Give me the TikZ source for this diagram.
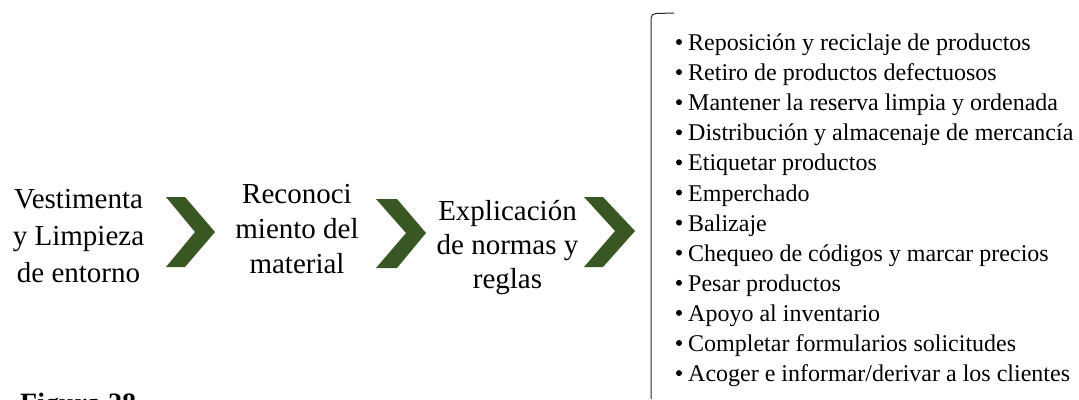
\documentclass[tikz,border=0pt]{standalone}
\usepackage{fontspec}
\setmainfont{Liberation Serif}
\definecolor{chevgreen}{RGB}{56,87,35}
\definecolor{bracketgray}{RGB}{40,40,40}
\tikzset{
  chev/.style={fill=chevgreen, draw=none},
  steptext/.style={anchor=base, align=center, inner sep=0pt, font=\fontsize{29}{36}\selectfont},
  listitem/.style={anchor=base west, inner sep=0pt, font=\fontsize{24}{28}\selectfont},
  dot/.style={fill=black, draw=none},
  brk/.style={draw=bracketgray, line width=1pt}
}
\begin{document}
\begin{tikzpicture}[x=1pt,y=-1pt]
\useasboundingbox (0,0) rectangle (1079,399);
\clip (0,0) rectangle (1079,399);
\fill[white] (0,0) rectangle (1079,399);
% step texts (base anchor = baseline of last line)
\node[steptext, font=\fontsize{29}{37}\selectfont] (s1) at (78.5,282) {Vestimenta\\y Limpieza\\de entorno};
\node[steptext, font=\fontsize{29}{35}\selectfont] (s2) at (297,273) {Reconoci\\miento del\\material};
\node[steptext, font=\fontsize{29}{34}\selectfont] (s3) at (507.5,288) {Explicación\\de normas y\\reglas};
% chevrons
\fill[chev] (166,197) -- (185,197) -- (215,232) -- (185,267) -- (166,267) -- (195,232) -- cycle;
\fill[chev] (376,199) -- (397,199) -- (426,233) -- (397,268) -- (376,268) -- (406,233) -- cycle;
\fill[chev] (584,197) -- (603,197) -- (635,231) -- (603,267) -- (584,267) -- (615,231) -- cycle;
% bracket
\coordinate (bt) at (674,13);
\coordinate (bb) at (651,399);
\draw[brk] (bt) -- (656,13.5) to[out=180,in=90] (651,18) -- (bb);
% list
\foreach \t [count=\i from 0] in {
  Reposición y reciclaje de productos,
  Retiro de productos defectuosos,
  Mantener la reserva limpia y ordenada,
  Distribución y almacenaje de mercancía,
  Etiquetar productos,
  Emperchado,
  Balizaje,
  Chequeo de códigos y marcar precios,
  Pesar productos,
  Apoyo al inventario,
  Completar formularios solicitudes,
  Acoger e informar/derivar a los clientes}{
  \node[listitem] (item\i) at (688,50.5+30.1*\i) {\t};
  \fill[dot] (679,42+30.1*\i) circle (3);
}
% caption (cut off at bottom, as in the reference)
\node[anchor=base west, inner sep=0pt, font=\fontsize{28}{32}\selectfont\bfseries] (fig) at (20,412) {Figura 28};
\end{tikzpicture}
\end{document}
